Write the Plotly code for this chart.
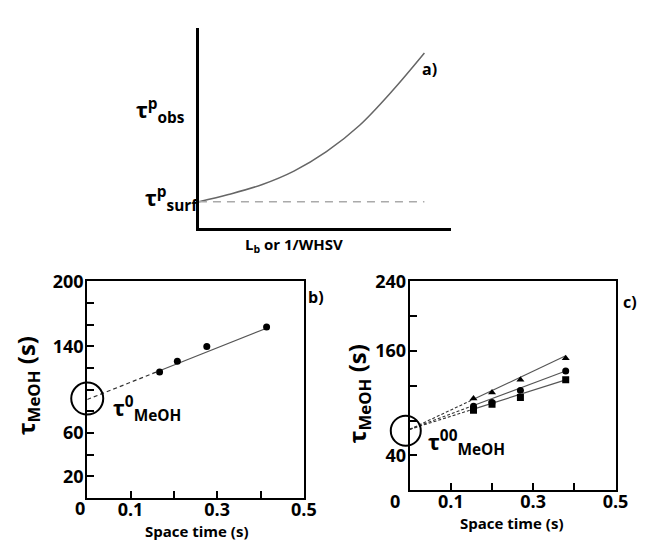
import plotly.graph_objects as go

W, H = 654, 543

# ---- Panel a (schematic) ----
curve_x = [0.0, 0.117, 0.249, 0.377, 0.506, 0.638, 0.767, 0.895]
curve_y = [0.13, 0.166, 0.215, 0.283, 0.380, 0.512, 0.683, 0.873]
surf_level = 0.13
a_xmax = 0.895

# ---- Panel b ----
b_x = [0.167, 0.208, 0.276, 0.414]
b_y = [116.4, 126.4, 139.9, 157.9]
b_intercept = 91.0
b_slope = 159.0
b_xticks = [0.1, 0.3, 0.5]
b_xticktext = ["0.1", "0.3", "0.5"]
b_yticks = [20, 60, 140, 200]
b_yticktext = ["20", "60", "140", "200"]

# ---- Panel c ----
c_x = [0.155, 0.200, 0.269, 0.379]
c_tri = [105.6, 112.4, 127.0, 151.7]
c_circ = [96.6, 101.0, 114.6, 137.0]
c_sq = [92.1, 98.9, 106.7, 127.0]
c_intercepts = [70.0, 70.0, 70.0]
c_slopes = [223.0, 177.0, 150.0]
c_xticks = [0.1, 0.3, 0.5]
c_xticktext = ["0.1", "0.3", "0.5"]
c_yticks = [40, 160, 240]
c_yticktext = ["40", "160", "240"]

FONT = "Open Sans"
LINE = "#555555"


def px(x):
    return x / W


def py(y):
    return 1 - y / H


fig = go.Figure()

# Panel a
fig.add_trace(go.Scatter(x=curve_x, y=curve_y, mode="lines", xaxis="x", yaxis="y",
                         line=dict(color="#666666", width=1.5, shape="spline"),
                         showlegend=False, hoverinfo="skip"))
fig.add_trace(go.Scatter(x=[0, a_xmax], y=[surf_level, surf_level], mode="lines",
                         xaxis="x", yaxis="y",
                         line=dict(color="#aaaaaa", width=1.5, dash="8px,6px"),
                         showlegend=False, hoverinfo="skip"))

# Panel b
fig.add_trace(go.Scatter(x=[0, b_x[0]], y=[b_intercept, b_intercept + b_slope * b_x[0]],
                         mode="lines", xaxis="x2", yaxis="y2",
                         line=dict(color="#333333", width=1.2, dash="4px,3px"),
                         showlegend=False, hoverinfo="skip"))
fig.add_trace(go.Scatter(x=[b_x[0], b_x[-1]],
                         y=[b_intercept + b_slope * b_x[0], b_intercept + b_slope * b_x[-1]],
                         mode="lines", xaxis="x2", yaxis="y2",
                         line=dict(color=LINE, width=1.2),
                         showlegend=False, hoverinfo="skip"))
fig.add_trace(go.Scatter(x=b_x, y=b_y, mode="markers", xaxis="x2", yaxis="y2",
                         marker=dict(color="black", size=7, symbol="circle"),
                         showlegend=False))

# Panel c
series = [(c_tri, "triangle-up"), (c_circ, "circle"), (c_sq, "square")]
for (vals, sym), b0, m in zip(series, c_intercepts, c_slopes):
    fig.add_trace(go.Scatter(x=[0, c_x[0]], y=[b0, b0 + m * c_x[0]],
                             mode="lines", xaxis="x3", yaxis="y3",
                             line=dict(color="#333333", width=1.1, dash="3px,2px"),
                             showlegend=False, hoverinfo="skip"))
    fig.add_trace(go.Scatter(x=[c_x[0], c_x[-1]], y=[b0 + m * c_x[0], b0 + m * c_x[-1]],
                             mode="lines", xaxis="x3", yaxis="y3",
                             line=dict(color=LINE, width=1.1),
                             showlegend=False, hoverinfo="skip"))
    fig.add_trace(go.Scatter(x=c_x, y=vals, mode="markers", xaxis="x3", yaxis="y3",
                             marker=dict(color="black", size=7, symbol=sym),
                             showlegend=False))

tickfont = dict(family=FONT, size=18, color="black", weight="bold")
box_axis = dict(showline=True, linecolor="black", linewidth=2, mirror=True,
                ticks="inside", ticklen=7, tickwidth=2, tickcolor="black",
                showgrid=False, zeroline=False, tickfont=tickfont)


def minor(step):
    return dict(ticks="inside", dtick=step, tick0=0, ticklen=7, tickwidth=2,
                tickcolor="black", showgrid=False)


fig.update_layout(
    width=W, height=H, margin=dict(l=0, r=0, t=0, b=0),
    paper_bgcolor="white", plot_bgcolor="white",
    xaxis=dict(domain=[px(203), px(460)], range=[0, 1], showline=True, linecolor="black",
               linewidth=3, showgrid=False, zeroline=False, showticklabels=False, ticks=""),
    yaxis=dict(domain=[py(220), py(15)], range=[0, 1], showline=True, linecolor="black",
               linewidth=3, showgrid=False, zeroline=False, showticklabels=False, ticks=""),
    xaxis2=dict(domain=[px(89), px(310)], range=[0, 0.5], anchor="y2",
                tickvals=b_xticks, ticktext=b_xticktext, ticklabelstandoff=-6,
                minor=minor(0.1), **box_axis),
    yaxis2=dict(domain=[py(497), py(275)], range=[0, 200], anchor="x2",
                tickvals=b_yticks, ticktext=b_yticktext, ticklabelstandoff=-2,
                minor=minor(20), **box_axis),
    xaxis3=dict(domain=[px(418), px(628)], range=[0, 0.5], anchor="y3",
                tickvals=c_xticks, ticktext=c_xticktext, ticklabelstandoff=-6,
                minor=minor(0.1), **box_axis),
    yaxis3=dict(domain=[py(489), py(275)], range=[0, 240], anchor="x3",
                tickvals=c_yticks, ticktext=c_yticktext, ticklabelstandoff=-2,
                minor=minor(40), **box_axis),
)

# circles around intercepts (paper-referenced so they are not clipped)
fig.add_shape(type="circle", xref="paper", yref="paper", xsizemode="pixel", ysizemode="pixel",
              xanchor=px(89), yanchor=py(395), x0=-16, x1=16, y0=-16, y1=16,
              line=dict(color="black", width=2))
fig.add_shape(type="circle", xref="paper", yref="paper", xsizemode="pixel", ysizemode="pixel",
              xanchor=px(414), yanchor=py(428), x0=-15, x1=15, y0=-15, y1=15,
              line=dict(color="black", width=2))


def ann(text, x, y, size, xanchor="center", yanchor="middle", angle=0):
    fig.add_annotation(text=text, x=px(x), y=py(y), xref="paper", yref="paper",
                       showarrow=False, xanchor=xanchor, yanchor=yanchor, textangle=angle,
                       font=dict(family=FONT, size=size, color="black", weight="bold"))


# panel a labels
ann("τ<sup>p</sup><sub>obs</sub>", 137, 100, 22, xanchor="left")
ann("τ<sup>p</sup><sub>surf</sub>", 146, 190, 22, xanchor="left")
ann("L<sub>b</sub> or 1/WHSV", 300, 238, 15)
ann("a)", 438, 57, 16)

# panel b labels
ann("b)", 322, 291, 16)
ann("τ<sup>0</sup><sub>MeOH</sub>", 113, 405, 22, xanchor="left")
ann("Space time (s)", 200, 531, 15)
ann("τ<sub>MeOH</sub> (s)", 27, 382, 24, angle=-90)
ann("0", 89, 507, 18, xanchor="right")

# panel c labels
ann("c)", 643, 296, 16)
ann("τ<sup>00</sup><sub>MeOH</sub>", 435, 440, 22, xanchor="left")
ann("Space time (s)", 522, 522, 15)
ann("τ<sub>MeOH</sub> (s)", 365, 390, 24, angle=-90)
ann("0", 410, 500, 18, xanchor="right")

fig.write_html("out.html")
